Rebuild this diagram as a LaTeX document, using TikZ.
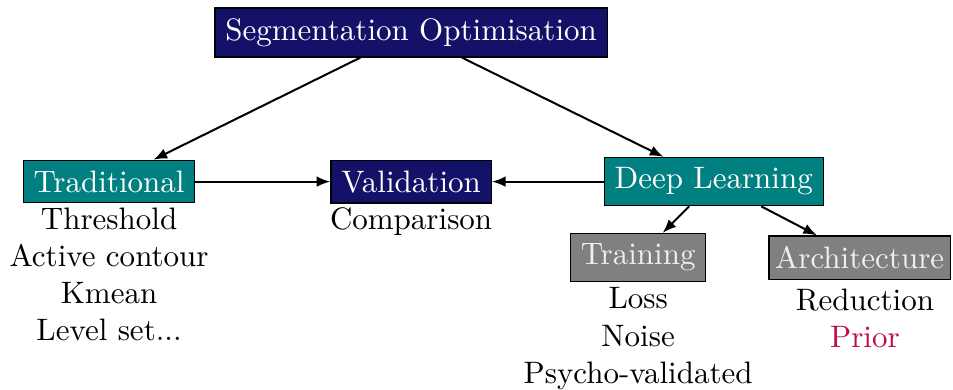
\documentclass[tikz,border=0pt]{standalone}
\usepackage{xcolor}
\usepackage{tikz}
\usetikzlibrary{positioning, arrows.meta}

\definecolor{optblue}{RGB}{20,18,104}
\definecolor{optteal}{RGB}{0,128,128}
\definecolor{optgray}{RGB}{128,128,128}
\definecolor{optprior}{RGB}{194,12,72}

\begin{document}
\begin{tikzpicture}[
		box/.style={draw=black, text=white, inner sep=3.33pt},
		topbox/.style={box, fill=optblue},
		mainbox/.style={box, fill=optteal},
		subbox/.style={box, fill=optgray, text=white!94!black},
		items/.style={align=center, inner sep=0pt},
		link/.style={-{Latex[length=4.4pt, width=3.4pt]}, line width=0.65pt}
	]
			% Picture frame
			\useasboundingbox (0,0) rectangle (10.80,4.41);
			
			% Top node
			\node[topbox] (seg) at (4.659,4.041) {Segmentation Optimisation};
			
			% Second row
			\node[mainbox] (trad) at (1.236,2.352) {Traditional};
			\node[topbox] (valid) at (4.659,2.352) {Validation};
			\node[mainbox] (deep) at (8.088,2.352) {Deep Learning};
			
			% Deep learning branches
			\node[subbox] (train) at (7.232,1.491) {Training};
			\node[subbox, inner xsep=2pt] (arch) at (9.742,1.491) {Architecture};
			
			% Lists under the boxes
			\node[items, below=1.2pt of trad] (tradlist) {Threshold\\Active contour\\Kmean\\Level set...};
			\node[items, below=1.2pt of valid] (validlist) {Comparison};
			\node[items, below=1.6pt of train] (trainlist) {Loss\\Noise\\Psycho-validated};
			\node[items, below=2.6pt of arch, xshift=0.06cm] (archlist) {Reduction\\\textcolor{optprior}{Prior}};
			
			% Arrows
			\draw[link] (seg) -- (trad);
			\draw[link] (seg) -- (deep);
			\draw[link] (trad) -- (valid);
			\draw[link] (deep) -- (valid);
			\draw[link] (deep) -- (train);
			\draw[link] (deep) -- (arch);
			
\end{tikzpicture}
\end{document}
